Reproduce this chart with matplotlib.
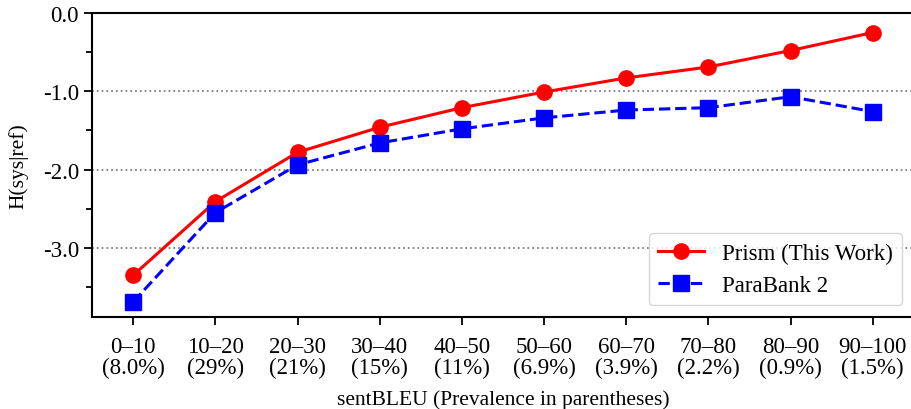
import numpy as np
import matplotlib.pyplot as plt

plt.rcParams['font.family'] = ['Liberation Serif', 'DejaVu Serif']

bins = ['0–10', '10–20', '20–30', '30–40', '40–50', '50–60', '60–70', '70–80', '80–90', '90–100']
prevalence = ['8.0%', '29%', '21%', '15%', '11%', '6.9%', '3.9%', '2.2%', '0.9%', '1.5%']
prism = [-3.35, -2.41, -1.78, -1.46, -1.21, -1.01, -0.83, -0.69, -0.48, -0.25]
parabank = [-3.69, -2.55, -1.94, -1.66, -1.48, -1.34, -1.24, -1.21, -1.07, -1.26]

labels = [f'{b}\n({p})' for b, p in zip(bins, prevalence)]
x = np.arange(len(bins))

fig = plt.figure(figsize=(9.12, 4.10), dpi=100)
ax = fig.add_axes([0.101, 0.225, 0.901, 0.741])

ax.plot(x, prism, color='red', linestyle='-', linewidth=2.2, marker='o',
        markersize=11, label='Prism (This Work)')
ax.plot(x, parabank, color='blue', linestyle='--', linewidth=2.2, marker='s',
        markersize=11, label='ParaBank 2')

ax.set_xlim(-0.5, 9.5)
ax.set_ylim(-3.88, 0.0)
ax.set_yticks([0.0, -1.0, -2.0, -3.0])
ax.set_yticklabels(['0.0', '-1.0', '-2.0', '-3.0'])
ax.set_yticks([-0.5, -1.5, -2.5, -3.5], minor=True)
ax.set_xticks(x)
ax.set_xticklabels(labels, linespacing=1.0)
ax.yaxis.grid(True, which='major', linestyle=':', color='gray', linewidth=1.3)
ax.tick_params(axis='both', which='major', labelsize=16.5, length=6, width=1.3)
ax.tick_params(axis='x', which='major', pad=8)
ax.tick_params(axis='y', which='minor', length=4, width=1.3)
for s in ['left', 'bottom', 'top']:
    ax.spines[s].set_linewidth(1.5)
ax.spines['right'].set_visible(False)

ax.set_ylabel('H(sys|ref)', fontsize=15.5)
ax.yaxis.set_label_coords(-0.078, 0.5)
ax.set_xlabel('sentBLEU (Prevalence in parentheses)', fontsize=15.5, labelpad=8)
ax.legend(loc='lower right', fontsize=16.5, handlelength=2.0, borderaxespad=0.5)

fig.savefig('out.png', dpi=100)
